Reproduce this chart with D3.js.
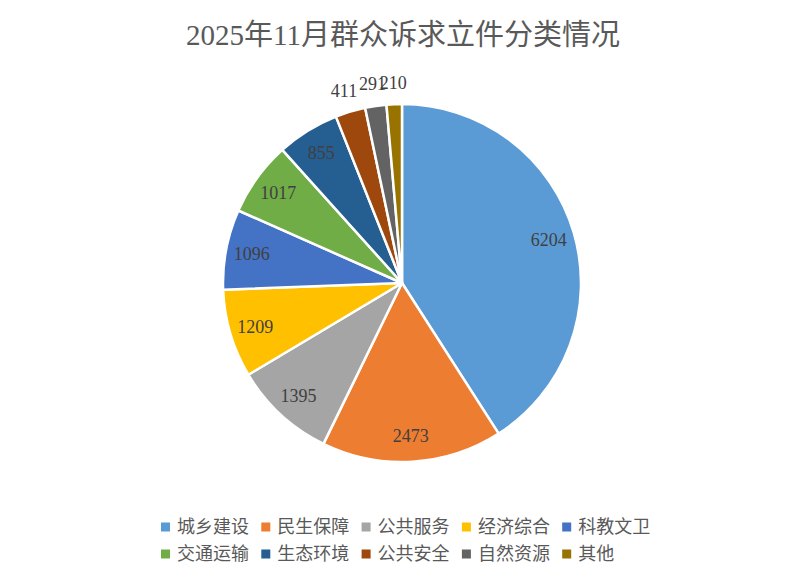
<!DOCTYPE html>
<html>
<head>
  <meta charset="UTF-8">
  <style>
    body { margin: 0; background: #fff; }
    svg { display: block; }
  </style>
</head>
<body>
<svg></svg>
<script src="https://d3js.org/d3.v7.min.js"></script>
<script>

let width = 806, height = 586;

// chart data
const categories = ["城乡建设", "民生保障", "公共服务", "经济综合", "科教文卫",
                    "交通运输", "生态环境", "公共安全", "自然资源", "其他"];
const values = [6204, 2473, 1395, 1209, 1096, 1017, 855, 411, 291, 210];
const colors = ["#5B9BD5", "#ED7D31", "#A5A5A5", "#FFC000", "#4472C4",
                "#70AD47", "#255E91", "#9E480E", "#636363", "#997300"];

let svg = d3.select("svg")
    .attr("width", width)
    .attr("height", height);

let fontSerif = "'Liberation Serif', 'Times New Roman', 'Noto Sans CJK SC', serif";
let fontSans = "'Noto Sans CJK SC', 'Microsoft YaHei', sans-serif";

// title
svg.append("text")
    .attr("x", 403)
    .attr("y", 45)
    .attr("text-anchor", "middle")
    .attr("font-family", fontSerif)
    .attr("font-size", 29)
    .attr("fill", "#595959")
    .text("2025年11月群众诉求立件分类情况");

let cx = 402, cy = 283, r = 179;
let total = d3.sum(values);

let color = d3.scaleOrdinal().domain(categories).range(colors);

let pie = d3.pie()
    .sort(null)
    .value(d => d.value);

let data = categories.map((c, i) => ({ name: c, value: values[i] }));
let arcs = pie(data);

let arc = d3.arc().innerRadius(0).outerRadius(r);
let g = svg.append("g").attr("transform", `translate(${cx},${cy})`);

g.selectAll("path")
    .data(arcs)
    .enter()
    .append("path")
    .attr("d", arc)
    .attr("fill", d => color(d.data.name))
    .attr("stroke", "#fff")
    .attr("stroke-width", 2.5)
    .attr("stroke-linejoin", "round");

// labels: inside for big slices, just outside for small ones
let inner = d3.arc().innerRadius(153).outerRadius(153);
let outer = d3.arc().innerRadius(201).outerRadius(201);

g.selectAll("text.lbl")
    .data(arcs)
    .enter()
    .append("text")
    .attr("class", "lbl")
    .attr("transform", d => {
        let small = d.data.value / total < 0.03;
        let p = small ? outer.centroid(d) : inner.centroid(d);
        return `translate(${p[0]},${p[1]})`;
    })
    .attr("text-anchor", "middle")
    .attr("dy", "0.35em")
    .attr("font-family", fontSerif)
    .attr("font-size", 18)
    .attr("fill", "#404040")
    .text(d => d.data.value);

// legend
let legend = svg.append("g");
let rowY = [527, 554];
let item = legend.selectAll("g")
    .data(categories)
    .enter()
    .append("g")
    .attr("transform", (d, i) => `translate(${161 + (i % 5) * 100.3},${rowY[Math.floor(i / 5)]})`);

item.append("rect")
    .attr("x", 0)
    .attr("y", -4.5)
    .attr("width", 9)
    .attr("height", 9)
    .attr("fill", d => color(d));

item.append("text")
    .attr("x", 16)
    .attr("dy", "0.36em")
    .attr("font-family", fontSans)
    .attr("font-size", 18)
    .attr("fill", "#595959")
    .text(d => d);

</script>
</body>
</html>
